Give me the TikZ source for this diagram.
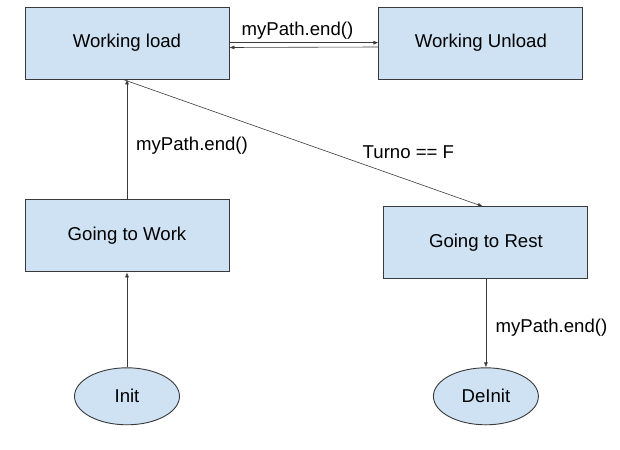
\documentclass[tikz,border=0pt]{standalone}
\usepackage{fontspec}
\setmainfont{Liberation Sans}
\usetikzlibrary{arrows.meta,shapes.geometric}
\definecolor{boxblue}{HTML}{CFE2F3}
\definecolor{edgegray}{HTML}{3A3A3A}

\begin{document}
\begin{tikzpicture}[x=1pt,y=-1pt,
  state/.style={draw=edgegray,line width=0.9pt,fill=boxblue,minimum width=204pt,minimum height=72pt,inner sep=0pt,font=\fontsize{18.6}{22}\selectfont},
  endstate/.style={ellipse,draw=edgegray,line width=0.9pt,fill=boxblue,minimum width=105pt,minimum height=57pt,inner sep=0pt,font=\fontsize{18.6}{22}\selectfont},
  lbl/.style={inner sep=0pt,font=\fontsize{18.6}{22}\selectfont},
  link/.style={-{Latex[length=5pt,width=4pt]},draw=edgegray,line width=0.6pt}]
\useasboundingbox (0,0) rectangle (620,449);

\node [state] (load) at (127,43) {Working load};
\node [state,anchor=west] (unload) at ([xshift=149pt]load.east) {Working Unload};
\draw [link]([yshift=0.3pt]load.east)--([yshift=0.3pt]unload.west);
\draw [link]([yshift=-4pt]unload.west)--([yshift=-4.5pt]load.east);
\node [lbl] (load-1) at ([xshift=68pt,yshift=12pt]load.east) {myPath.end()};

\node [state,anchor=north] (work) at ([yshift=-120pt]load.south) {Going to Work};
\draw [link](work.north)--(load.south);
\node [lbl,anchor=west] (work-1) at ([xshift=9pt,yshift=54pt]work.north) {myPath.end()};
%%%%%%%%%%%%%%%%%%%%%%%%%%
\node [state,anchor=west] (rest) at ([xshift=154pt,yshift=-7pt]work.east) {Going to Rest};
\draw [link]([xshift=-4pt]load.south)--([xshift=-3pt]rest.north);
\node [lbl] (rest-1) at ([xshift=-77.5pt,yshift=54pt]rest.north) {Turno == F};
%%%%%%%%%%%%%%%%%%%%%%%%%%
\node [endstate,anchor=north] (init) at ([yshift=-95pt]work.south) {Init};
\draw [link](init.north)--(work.south);

\node [endstate,anchor=north] (deinit) at ([yshift=-88pt]rest.south) {DeInit};
\draw [link](rest.south)--(deinit.north);
\node [lbl,anchor=west] (deinit-1) at ([xshift=9.5pt,yshift=-48pt]rest.south) {myPath.end()};

\end{tikzpicture}
\end{document}
